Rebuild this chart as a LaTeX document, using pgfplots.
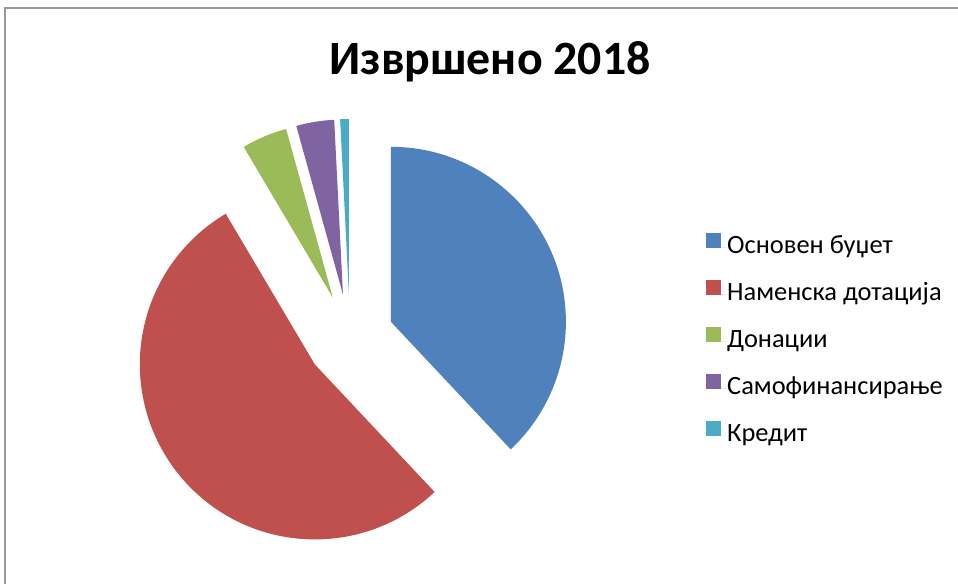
\documentclass[border=0pt]{standalone}
\usepackage{fontspec}
\setmainfont{Carlito}
\usepackage{pgfplots}
\usepackage{pgfplotstable}
\pgfplotsset{compat=1.18}

\definecolor{slice0}{HTML}{4F81BD}
\definecolor{slice1}{HTML}{C0504D}
\definecolor{slice2}{HTML}{9BBB59}
\definecolor{slice3}{HTML}{8064A2}
\definecolor{slice4}{HTML}{4BACC6}

\pgfplotsset{sq legend/.style={legend image code/.code={%
  \fill[##1] (0bp,-1bp) rectangle (15bp,14bp);
  \path (0bp,0bp) -- (21bp,0bp);}}}

% shares in percent, clockwise from 12 o'clock
\pgfplotstableread{
idx value
0 38.0
1 53.5
2 4.2
3 3.5
4 0.8
}\piedata

\begin{document}
\begin{tikzpicture}
\begin{axis}[
  width=958bp, height=584bp, scale only axis,
  xmin=0, xmax=958, ymin=0, ymax=584,
  axis lines=none,
  legend style={draw=none, fill=none, at={(axis cs:706,351)}, anchor=north west,
    font=\fontsize{26.5}{30}\selectfont, row sep=21bp, inner sep=0pt,
    nodes={inner xsep=0bp, inner ysep=0pt, text height=18bp, text depth=6bp}},
  legend cell align=left,
]
\addlegendimage{fill=slice0, draw=none, sq legend}
\addlegendimage{fill=slice1, draw=none, sq legend}
\addlegendimage{fill=slice2, draw=none, sq legend}
\addlegendimage{fill=slice3, draw=none, sq legend}
\addlegendimage{fill=slice4, draw=none, sq legend}
\legend{Основен буџет, Наменска дотација, Донации, Самофинансирање, Кредит}

\pgfplotsextra{
  \def\cum{0}
  \pgfplotsforeachungrouped \i in {0,1,2,3,4}{%
    \pgfplotstablegetelem{\i}{value}\of\piedata
    \let\v=\pgfplotsretval
    \pgfmathsetmacro\aA{90-3.6*\cum}%
    \pgfmathsetmacro\aB{90-3.6*(\cum+\v)}%
    \pgfmathsetmacro\aM{(\aA+\aB)/2}%
    \pgfmathsetmacro\cx{350+44*cos(\aM)}%
    \pgfmathsetmacro\cy{246+44*sin(\aM)}%
    \fill[slice\i] (axis cs:\cx,\cy) -- ++(\aA:175bp)
      arc[start angle=\aA, end angle=\aB, radius=175bp] -- cycle;
    \pgfmathsetmacro\cum{\cum+\v}%
  }
  \draw[gray!80, line width=1.5bp] (axis cs:5,-20) |- (axis cs:980,576);
  \node[anchor=base, font=\fontsize{48}{58}\selectfont\bfseries] at (axis cs:490,509) {Извршено 2018};
}
\end{axis}
\pgfresetboundingbox
\path (current axis.south west) rectangle (current axis.north east);
\end{tikzpicture}
\end{document}
